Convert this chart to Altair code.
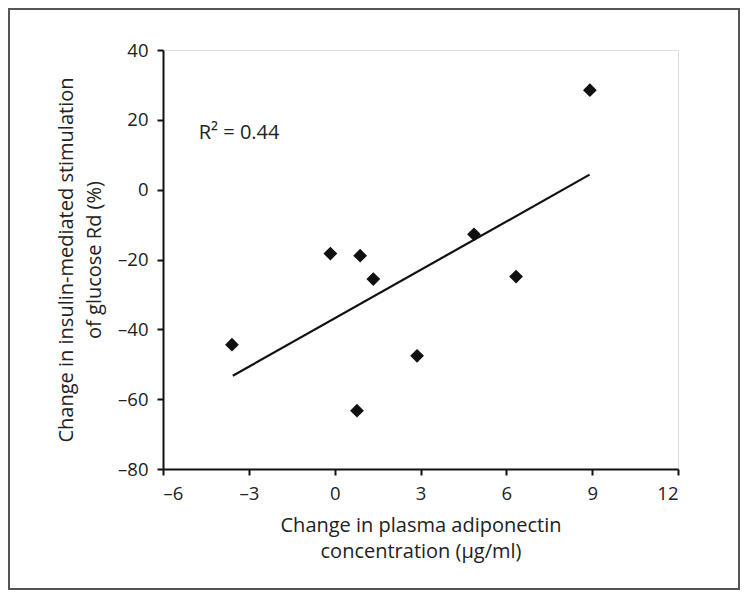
import altair as alt
import pandas as pd

# Data
adipo_change = [-3.59, -0.15, 0.89, 1.35, 0.78, 2.88, 4.87, 6.34, 8.92]
rd_change = [-44.4, -18.3, -18.9, -25.6, -63.3, -47.6, -12.8, -24.9, 28.5]
fit_x = [-3.56, 8.91]
fit_y = [-53.3, 4.3]
annot_x = [-4.75]
annot_y = [16.2]
annot_text = ["R² = 0.44"]

FONT = "Open Sans"
W, H = 515, 419
PAD = {"left": 155, "top": 42, "right": 62, "bottom": 121}

pts = pd.DataFrame({"x": adipo_change, "y": rd_change})
fit = pd.DataFrame({"x": fit_x, "y": fit_y})
ann = pd.DataFrame({"x": annot_x, "y": annot_y, "t": annot_text})
frame = pd.DataFrame({"a": [0]})

xs = alt.Scale(domain=[-6, 12], nice=False, zero=False)
ys = alt.Scale(domain=[-80, 40], nice=False, zero=False)

xaxis = alt.Axis(
    title=["Change in plasma adiponectin", "concentration (µg/ml)"],
    values=[-6, -3, 0, 3, 6, 9, 12], grid=False, domainColor="#111",
    domainWidth=2, tickColor="#111", tickWidth=2, tickSize=6,
    labelFont=FONT, labelFontSize=18.5, labelColor="#222", labelPadding=9,
    labelExpr="replace(datum.label, '−', '–')",
    titleFont=FONT, titleFontSize=20, titleFontWeight="normal", titleColor="#222",
    titlePadding=13, titleLineHeight=26,
)
yaxis = alt.Axis(
    title=["Change in insulin-mediated stimulation", "of glucose Rd (%)"],
    values=[-80, -60, -40, -20, 0, 20, 40], grid=False, domainColor="#111",
    domainWidth=2, tickColor="#111", tickWidth=2, tickSize=6,
    labelFont=FONT, labelFontSize=18.5, labelColor="#222", labelPadding=9,
    labelExpr="replace(datum.label, '−', '–')",
    titleFont=FONT, titleFontSize=20, titleFontWeight="normal", titleColor="#222",
    titlePadding=13, titleLineHeight=28,
)

points = alt.Chart(pts).mark_point(
    shape="diamond", filled=True, color="#111", size=190, opacity=1
).encode(x=alt.X("x:Q", scale=xs, axis=xaxis), y=alt.Y("y:Q", scale=ys, axis=yaxis))

line = alt.Chart(fit).mark_line(color="#111", strokeWidth=2.2).encode(
    x=alt.X("x:Q", scale=xs), y=alt.Y("y:Q", scale=ys)
)

text = alt.Chart(ann).mark_text(
    align="left", baseline="middle", font=FONT, fontSize=20, color="#222"
).encode(x=alt.X("x:Q", scale=xs), y=alt.Y("y:Q", scale=ys), text="t:N")

border = alt.Chart(frame).mark_rect(
    fill=None, stroke="#555", strokeWidth=2
).encode(
    x=alt.value(-PAD["left"] + 1), x2=alt.value(W + PAD["right"] - 1),
    y=alt.value(-PAD["top"] + 1), y2=alt.value(H + PAD["bottom"] - 1),
)

chart = (
    alt.layer(border, line, points, text)
    .properties(width=W, height=H, padding=PAD, autosize=alt.AutoSizeParams(type="none"))
    .configure_view(stroke=None)
    .configure(background="white")
)

chart.save("out.html", embed_options={"renderer": "svg", "actions": False})
